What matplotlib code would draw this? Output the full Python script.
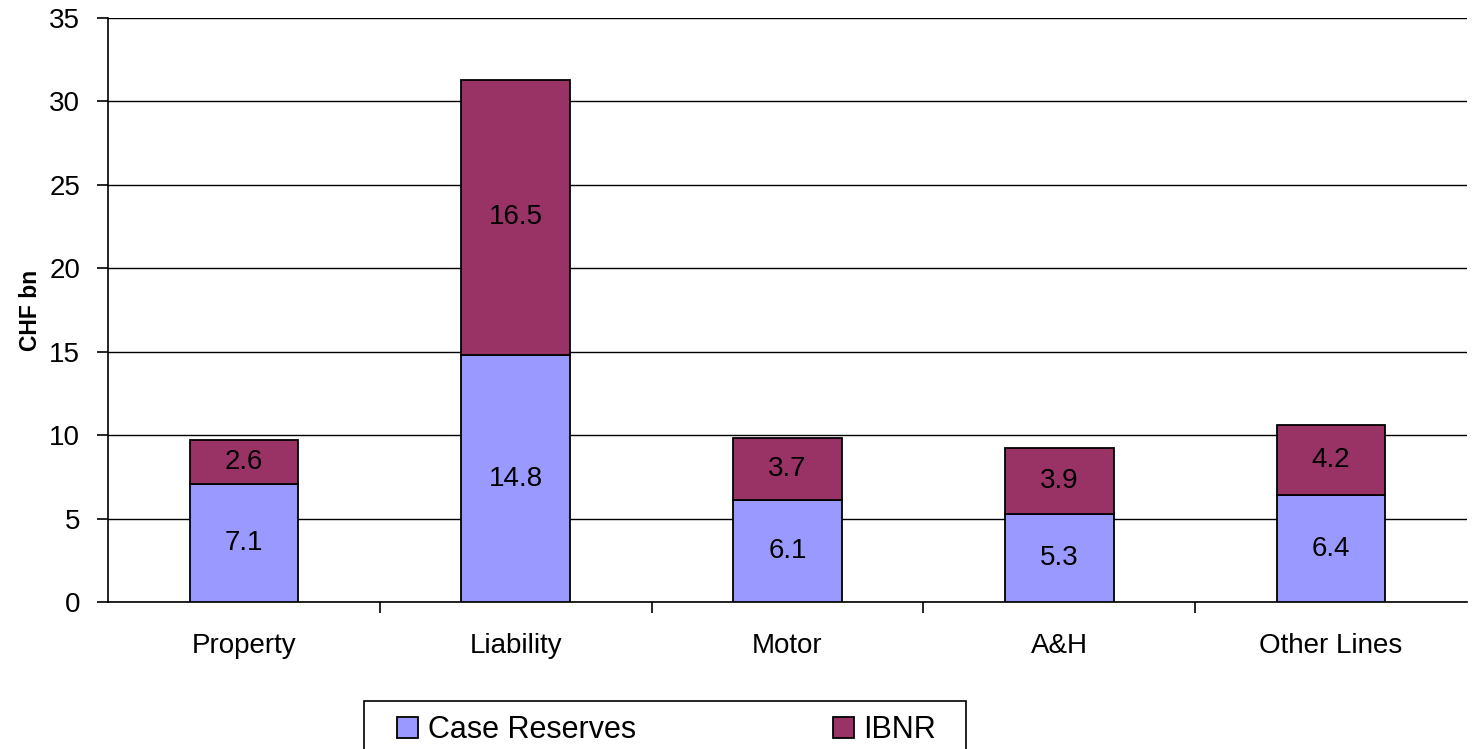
import numpy as np
import matplotlib
matplotlib.use("Agg")
import matplotlib.pyplot as plt
from matplotlib.patches import Rectangle

plt.rcParams['font.family'] = ['Liberation Sans', 'DejaVu Sans']

categories = ["Property", "Liability", "Motor", "A&H", "Other Lines"]
case_reserves = [7.1, 14.8, 6.1, 5.3, 6.4]
ibnr = [2.6, 16.5, 3.7, 3.9, 4.2]

case_color = "#9999FF"
ibnr_color = "#993366"

W, H = 1472, 749
fig = plt.figure(figsize=(W / 100, H / 100), dpi=100)
ax = fig.add_axes([108 / W, 1 - 602 / H, (1467 - 108) / W, (602 - 18) / H])

x = np.arange(len(categories))
width = 0.4
b1 = ax.bar(x, case_reserves, width, color=case_color, edgecolor="black",
            linewidth=1.3, label="Case Reserves", zorder=3)
b2 = ax.bar(x, ibnr, width, bottom=case_reserves, color=ibnr_color,
            edgecolor="black", linewidth=1.3, label="IBNR", zorder=3)

# value labels in the middle of each segment
for i in range(len(categories)):
    ax.text(x[i], case_reserves[i] / 2, f"{case_reserves[i]:.1f}",
            ha="center", va="center", fontsize=20, zorder=4)
    ax.text(x[i], case_reserves[i] + ibnr[i] / 2, f"{ibnr[i]:.1f}",
            ha="center", va="center", fontsize=20, zorder=4)

ax.set_xlim(-0.5, len(categories) - 0.5)
ax.set_ylim(0, 35)
ax.set_yticks(np.arange(0, 36, 5))
ax.yaxis.grid(True, color="black", linewidth=1.0, zorder=0)
ax.set_axisbelow(True)

ax.set_xticks(x)
ax.set_xticklabels(categories, fontsize=20)
ax.tick_params(axis="x", which="major", length=0, pad=22)
ax.set_xticks(np.arange(0.5, len(categories) - 0.5, 1), minor=True)
ax.tick_params(axis="x", which="minor", length=8, width=1.2, color="black")
ax.tick_params(axis="y", labelsize=20, length=8, width=1.2, pad=12)

for side in ["top", "right"]:
    ax.spines[side].set_visible(False)
ax.spines["left"].set_linewidth(1.2)
ax.spines["bottom"].set_linewidth(1.2)

ax.set_ylabel("CHF bn", fontsize=16.5, fontweight="bold", labelpad=5)

# legend box, running off the bottom edge of the figure
box_left, box_right, box_top = 364, 966, 701
fig.patches.append(Rectangle((box_left / W, -0.05), (box_right - box_left) / W,
                             0.05 + 1 - box_top / H, transform=fig.transFigure,
                             facecolor="white", edgecolor="black", linewidth=1.2))
leg = fig.legend(handles=[b1, b2], loc="center left",
                 bbox_to_anchor=(397 / W, 1 - 745 / H, (936 - 397) / W, 30 / H),
                 mode="expand", ncol=2, fontsize=22, frameon=False,
                 handlelength=0.7, handleheight=0.7,
                 handletextpad=0.3, borderpad=0, borderaxespad=0)

fig.savefig("out.png", dpi=100)
